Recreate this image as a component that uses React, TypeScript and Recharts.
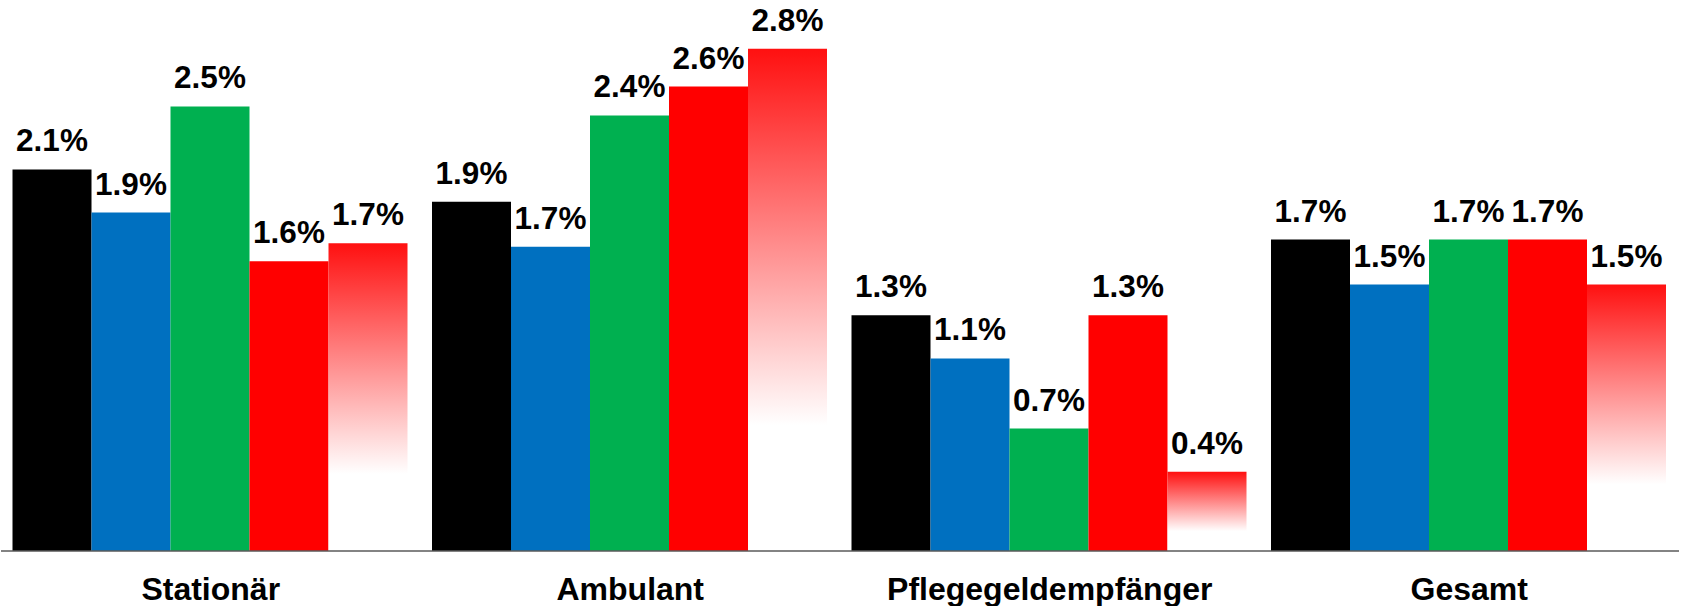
import React from "react";
import { BarChart, Bar, XAxis, YAxis, LabelList } from "recharts";

const categories = ["Stationär", "Ambulant", "Pflegegeldempfänger", "Gesamt"];
const series1 = [2.12, 1.94, 1.31, 1.73];
const series2 = [1.88, 1.69, 1.07, 1.48];
const series3 = [2.47, 2.42, 0.68, 1.73];
const series4 = [1.61, 2.58, 1.31, 1.73];
const series5 = [1.71, 2.79, 0.44, 1.48];

const seriesKeys = ["s1", "s2", "s3", "s4", "s5"];
const seriesColors = ["#000000", "#0070C0", "#00B050", "#FF0000", "url(#redFade)"];
const allSeries = [series1, series2, series3, series4, series5];

const data = categories.map((c, i) => {
  const row: Record<string, string | number> = { name: c };
  allSeries.forEach((s, j) => {
    row[seriesKeys[j]] = s[i];
  });
  return row;
});

const fmt = (v: any) => `${Number(v).toFixed(1)}%`;
const FONT = "'Liberation Sans', Arial, sans-serif";

export default function App() {
  return (
    <div style={{ position: "absolute", left: 0, top: 0, width: 1683, height: 606, background: "#fff" }}>
      <BarChart
        width={1683}
        height={606}
        data={data}
        margin={{ top: 11, right: 4, left: 1, bottom: 0 }}
        barCategoryGap={11.5}
        barGap={0}
      >
        <defs>
          <linearGradient id="redFade" x1="0" y1="0" x2="0" y2="1">
            <stop offset="0%" stopColor="#FF1010" stopOpacity={1} />
            <stop offset="75%" stopColor="#FFFFFF" stopOpacity={1} />
            <stop offset="100%" stopColor="#FFFFFF" stopOpacity={1} />
          </linearGradient>
        </defs>
        <XAxis
          dataKey="name"
          height={55}
          tickLine={false}
          tickSize={0}
          tickMargin={26}
          axisLine={{ stroke: "#5a5a5a", strokeWidth: 1.5 }}
          tick={{ fill: "#000", fontSize: 32, fontWeight: 700, fontFamily: FONT }}
          interval={0}
        />
        <YAxis hide domain={[0, 3]} />
        {seriesKeys.map((k, j) => (
          <Bar key={k} dataKey={k} fill={seriesColors[j]} isAnimationActive={false}>
            <LabelList
              dataKey={k}
              position="top"
              offset={18}
              formatter={fmt}
              style={{ fill: "#000", fontSize: 31.5, fontWeight: 700, fontFamily: FONT }}
            />
          </Bar>
        ))}
      </BarChart>
    </div>
  );
}
